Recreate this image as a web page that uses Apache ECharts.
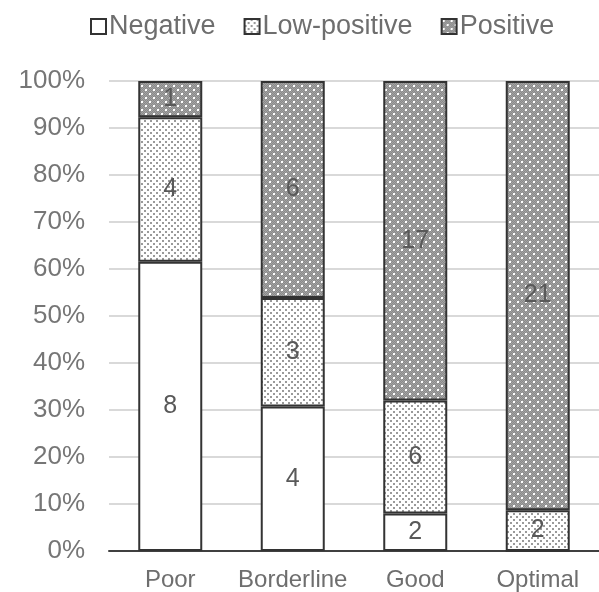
<!DOCTYPE html>
<html>
<head>
<meta charset="utf-8">
<script src="https://cdn.jsdelivr.net/npm/echarts@6/dist/echarts.min.js"></script>
<style>
  html, body { margin: 0; padding: 0; background: #fff; }
  #chart { width: 599px; height: 592px; }
</style>
</head>
<body>
<div id="chart"></div>
<script>
    // 数据 (counts)
    const categories = ["Poor", "Borderline", "Good", "Optimal"];
    const negative = [8, 4, 2, 0];
    const lowPositive = [4, 3, 6, 2];
    const positive = [1, 6, 17, 21];
    const yTicks = [0, 10, 20, 30, 40, 50, 60, 70, 80, 90, 100];

    const totals = categories.map((c, i) => negative[i] + lowPositive[i] + positive[i]);
    const toPct = arr => arr.map((v, i) => v / totals[i] * 100);

    // 图案填充
    function makePattern(bg, dot, size, step) {
        const c = document.createElement("canvas");
        c.width = step * 2;
        c.height = step * 2;
        const ctx = c.getContext("2d");
        ctx.fillStyle = bg;
        ctx.fillRect(0, 0, c.width, c.height);
        ctx.fillStyle = dot;
        ctx.fillRect(0, 0, size, size);
        ctx.fillRect(step, step, size, size);
        return c;
    }

    function makeDark() {
        const c = document.createElement("canvas");
        c.width = 8;
        c.height = 8;
        const ctx = c.getContext("2d");
        ctx.fillStyle = "#8a8a8a";
        ctx.fillRect(0, 0, 8, 8);
        ctx.fillStyle = "#a3a3a3";
        for (let x = 0; x < 8; x++) {
            for (let y = 0; y < 8; y++) {
                if ((x + y) % 2 == 0) ctx.fillRect(x, y, 1, 1);
            }
        }
        ctx.fillStyle = "#ffffff";
        ctx.fillRect(1, 1, 2, 2);
        ctx.fillRect(5, 5, 2, 2);
        return c;
    }

    const lowPattern = makePattern("#ffffff", "#9a9a9a", 2, 3);
    const posPattern = makeDark();

    const myChart = echarts.init(document.getElementById("chart"));

    const labelOpt = counts => ({
        show: true,
        position: "inside",
        fontSize: 25,
        color: "#595959",
        formatter: p => counts[p.dataIndex] ? String(counts[p.dataIndex]) : ""
    });

    const common = {
        type: "bar",
        stack: "total",
        barWidth: 64,
        animation: false
    };

    const option = {
        animation: false,
        textStyle: { fontFamily: "Liberation Sans, Arial, sans-serif" },
        legend: {
            top: 8,
            left: 85,
            itemWidth: 15,
            itemHeight: 15,
            itemGap: 28,
            icon: "rect",
            textStyle: { fontSize: 27, color: "#6e6e6e", padding: [0, 0, 0, -2] },
            data: ["Negative", "Low-positive", "Positive"]
        },
        grid: { left: 109, right: -8, top: 81, bottom: 39 },
        xAxis: {
            type: "category",
            data: categories,
            axisLine: { lineStyle: { color: "#404040", width: 2 } },
            axisTick: { show: false },
            axisLabel: { interval: 0, fontSize: 24, color: "#6e6e6e", margin: 17 }
        },
        yAxis: {
            type: "value",
            min: yTicks[0],
            max: yTicks[yTicks.length - 1],
            interval: 10,
            axisLine: { show: false },
            axisTick: { show: false },
            splitLine: { lineStyle: { color: "#d9d9d9", width: 2 } },
            axisLabel: { fontSize: 26, color: "#767676", margin: 24, formatter: "{value}%" }
        },
        series: [
            Object.assign({}, common, {
                name: "Negative",
                data: toPct(negative),
                itemStyle: { color: "#ffffff", borderColor: "#333333", borderWidth: 2 },
                label: labelOpt(negative)
            }),
            Object.assign({}, common, {
                name: "Low-positive",
                data: toPct(lowPositive),
                itemStyle: { color: { image: lowPattern, repeat: "repeat" }, borderColor: "#333333", borderWidth: 2 },
                label: labelOpt(lowPositive)
            }),
            Object.assign({}, common, {
                name: "Positive",
                data: toPct(positive),
                itemStyle: { color: { image: posPattern, repeat: "repeat" }, borderColor: "#333333", borderWidth: 2 },
                label: labelOpt(positive)
            })
        ]
    };

    option && myChart.setOption(option);
</script>
</body>
</html>
